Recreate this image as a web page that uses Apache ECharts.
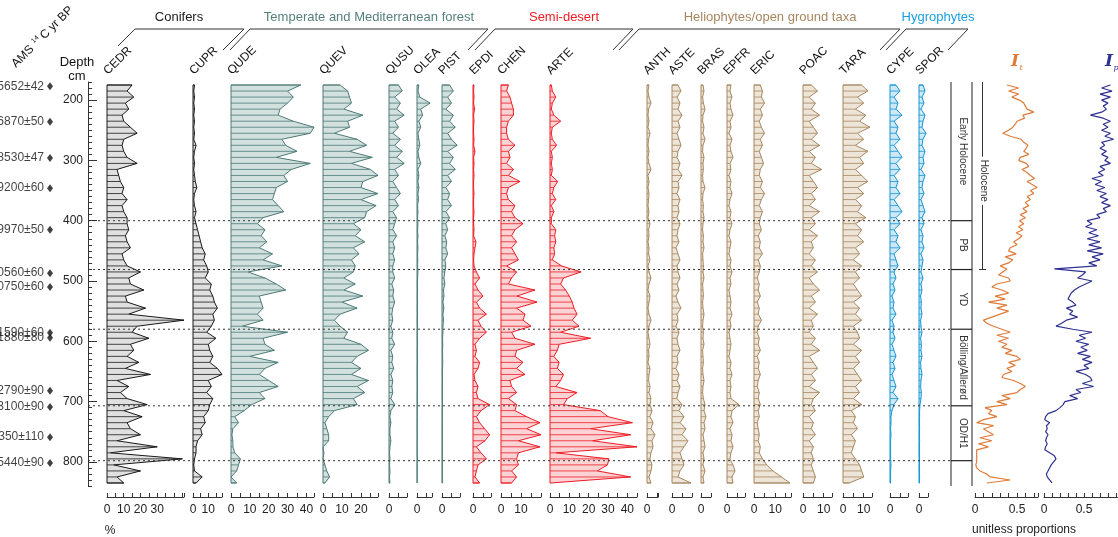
<!DOCTYPE html>
<html>
<head>
<meta charset="utf-8">
<script src="https://cdn.jsdelivr.net/npm/echarts@6/dist/echarts.min.js"></script>
<style>
  html, body { margin: 0; background: #fff; }
  #chart { width: 1118px; height: 537px; }
</style>
</head>
<body>
<div id="chart"></div>
<script>
// sample depths (cm) shared by the pollen panels
const depths = [175,185,195,205,215,225,235,245,255,265,275,285,295,305,315,325,335,345,355,365,375,385,395,405,415,425,435,445,455,465,475,485,495,505,515,525,535,545,555,565,575,585,595,605,615,625,635,645,655,665,675,685,695,705,715,725,735,745,755,765,775,785,795,805,815,825,835];

// pollen percentages
const cedr = [15,12,16,11,13,9,10,14,18,10, 9,10,12,18,6,7,8,10,9,12, 9,10,12,12,13,11,12,14,9,10, 12,20,13,14,22,11,12,23,13,46, 18,15,25,14,16,12,19,11,26,6, 13,8,12,24,10,21,12,14,20,6, 30,2,45,4,20,6,10];
const cupr = [1,0.5,1,0.5,1,0.5,1,0.5,1,0.5, 2,1,0.5,1,0.5,1,1.5,2.5,1,0.5, 1,2,1,2,3,4,5,6,8,7, 9,10,8,12,11,13,14,16,13,14, 12,9,15,10,11,13,11,16,19,10, 12,9,13,11,10,7,8,5,6,3, 2,2,1,0.5,1,6,2];
const qude = [37,30,33,30,26,25,33,44,42,27, 29,35,24,42,32,28,30,24,23,22, 25,28,17,14,18,16,19,15,22,17, 27,9,18,24,29,15,16,17,14,17, 6,30,17,18,23,10,25,18,15,20, 25,15,18,11,7,2,4,1,0.5,1, 1,2,5,4,3,0,3];
const quev = [9,13,14,15,11,21,13,14,6,18, 23,14,26,15,25,29,21,20,29,20, 28,23,22,16,20,17,22,16,19,15, 17,16,11,17,11,21,10,18,9,6, 9,13,11,20,24,18,15,20,15,24, 18,22,16,18,6,3,1,2,3,3, 0,0.5,0,1,2,3.5,1];
const qusu = [5,7,3,6,4,8,3,5,2,6, 3,7,4,8,3,5,2,4,6,3, 5,2,4,3,2,4,2,3,2,3, 2,2,3,1.5,2.5,2,3,2,1.5,2, 1,2,1.5,3,1,2,1.5,2.5,1,2, 1.5,2,1,3,1,0.5,1,0.5,0.5,1, 0.5,0.3,0.5,0.3,0.5,0.3,0.5];
const olea = [1,0.5,1.5,7,2,3,1,2,0.5,1, 1.5,0.5,1,2,0.5,1,0.5,1,0.5,0.8, 0.3,0.5,0.3,0.5,0.3,0.5,0.3,0.5,0.3,0.4, 0.3,0.5,0.3,0.2,0.3,0.2,0.3,0.2,0.3,0.2, 0.3,0.2,0.2,0.3,0.2,0.2,0.3,0.2,0.2,0.2, 0.3,0.2,0.2,0.2,0.1,0.2,0.1,0.1,0.2,0.1, 0.1,0.1,0.2,0.1,0.1,0.1,0.1];
const pist = [4,6,3,5,2,6,4,7,3,5, 8,3,6,4,7,3,5,2,4,3, 5,2,4,2,3,1.5,2.5,2,3,1.5, 2,1.5,1,1.5,0.8,1,0.5,1,0.5,0.8, 0.5,0.5,0.3,0.4,0.3,0.3,0.4,0.3,0.2,0.3, 0.2,0.3,0.2,0.3,0.2,0.2,0.2,0.2,0.2,0.2, 0.2,0.2,0.2,0.2,0.2,0.2,0.2];
const epdi = [0.5,0.3,0.5,0.3,0.8,0.3,0.5,0.3,0.3,0.5, 0.3,1,0.3,0.5,0.3,0.5,0.3,0.3,0.5,0.3, 0.3,0.5,0.3,0.3,0.5,0.3,1.5,1,0.5,0.3, 0.5,1.7,3.3,1,2.5,5,1.7,3.3,6.7,2.5, 4,6.7,3.3,1,1.7,1,3.3,2.5,0.5,1, 2.5,1.7,2.5,8.3,4,1.7,3.3,5.8,8.3,6, 1.7,4,6.7,2.5,1.7,1,3.3];
const chen = [3.7,2.8,4.5,5.3,6.2,6.2,3.7,2.8,2.8,3.7, 7,3.7,4.5,2.8,6.2,3.7,9.5,3.7,2.8,3.7, 7,5.3,7,11,7,5.3,7.8,5.3,7,8.7, 2.8,7.8,5.3,3.7,17,8,18,7.8,12,11, 15,5.3,7,17,7.8,7,11,7.8,12,4.5, 5.3,7.8,3.7,7.8,7,12.8,19.5,12.8,20,8.7, 19.5,8.7,7.8,8.7,5.3,7.8,5.3];
const arte = [0.7,1.2,3,1.2,0.7,2,5.5,1.2,0.7,1.2, 3.4,0.7,1.2,0.7,1.2,0.7,4,2,1.2,3, 0.7,2,0.7,0.7,3,2.4,3,2,2.4,1.2, 6,16,7,5.5,8,10,11.5,12.4,14,11.5, 15,5.5,21,4.7,3.8,2,4.7,3.8,7,5.5, 3,14,9,7,26,30,42.6,21,41.7,22, 45,3,30.5,29.7,24.5,41.7,0.3];
const anth = [1,0.5,1,2,0.8,0.5,1,0.5,1.5,0.8, 0.5,1,0.5,1,2,0.5,1,0.5,1,0.8, 0.5,1,0.5,1.5,0.8,1,0.5,1,0.8,1.5, 0.5,1,2,1,0.5,1.5,1,0.5,1,2, 1,0.5,1,1.5,0.8,1,0.5,1.5,1,0.8, 1.5,1,2,1.5,2.5,1.5,3,2,4,2.5, 3,2,1.5,2.5,2,1,2];
const aste = [3,4.5,2.5,4,3,5,3,4,2.5,3.5, 4.5,3,2.5,4,3,5,3,3.5,2.5,4, 3,3.5,2.5,4,3,2.5,3.5,2,3,4, 2.5,3,4,2.5,3.5,2,3,4.5,2.5,3, 2,3.5,2.5,3,4,2.5,3,2,3.5,2.5, 4,3,2.5,5,3.5,6,4,7,5,8, 6,4,5,6,4,3,9.5];
const bras = [1,1.5,0.8,1.2,2,1,0.8,1.5,1,2, 1,0.8,1.5,1,1.2,0.8,1,2,1,0.8, 1.2,1,1.5,1,0.8,1.2,1,1.5,0.8,1, 1.2,1,1.5,0.8,1,1.2,0.8,1,1.5,1, 0.8,1.2,1,1.5,0.8,1,1.2,0.8,1,1.5, 1,0.8,1.2,2,1.5,2.5,1.5,2,1,1.5, 2,1,1.5,1,2,1,1.5];
const epfr = [2,1.5,2.5,1.5,2,3,1.5,2,1,2.5, 1.5,2,3,1.5,2,1,2,1.5,2.5,1.5, 1,2,1.5,2.5,1.5,1,2,1.5,1,2, 1.5,2.5,1.5,2,1,1.5,2,1.5,2.5,1.5, 2,1,1.5,2,1.5,1,2,1.5,2.5,1.5, 2,1.5,2,6,2.5,2,3,1.5,2.5,2, 3,2,1.5,3,4,2.5,3];
const eric = [3,4,3.5,5,3,4,2.5,3.5,5,3, 4,2.5,3.5,4.5,3,2.5,4,3,5,3.5, 2.5,4,3,2.5,3.5,2,3,2.5,4,2, 3,2.5,1.5,2.5,2,3,1.5,2.5,2,3.5, 2,1.5,2.5,2,3,1.5,2.5,2,3,2, 1.5,2.5,2,3,2,2.5,1.5,2,2.5,2, 3,2.5,4,6,9,13,17];
const poac = [4,7,3,6,4,8,3,5,7,4, 8,3,6,4,9,3,5,7,4,6, 3,8,4,6,3,7,4,5,3,6, 4,7,3,5,8,4,6,3,7,4, 5,3,6,4,8,3,5,7,4,6, 3,8,5,4,6,3,5,4,6,3, 5,4,5,4,5,6,5];
const tara = [9,12,7,10,6,11,8,13,7,10, 6,12,8,10,6,9,12,7,10,6, 9,7,11,6,9,7,10,6,8,5, 9,6,8,5,7,9,5,8,6,9, 5,7,8,5,9,6,8,5,7,9, 6,8,5,9,4,6,5,7,4,6, 5,4,6,8,9,10,3];
const cype = [3,5,2,4,3,6,2,4,3,5, 2,4,6,3,5,2,4,3,5,2, 4,6,3,5,2,4,3,5,2,3, 4,2,3,1.5,2.5,1,2,1.5,3,1, 2,1.5,2.5,1,2,3,1.5,2.5,1,2, 3,1.5,4,2,1,0.5,0.5,0.3,0.5,0.3, 0.3,0.3,0.3,0.5,0.3,0.3,0.3];
const spor = [2,3,1.5,2.5,1,3,2,1.5,3.5,2, 1.5,3,2,2.5,1,3,2,1.5,2.5,1, 2,3,1.5,2.5,1,2,1.5,2.5,1,2, 1.5,1,2,1,1.5,0.8,1.2,1,1.5,0.8, 1,1.5,0.8,1.2,1,1.5,0.8,1,1.5,1, 0.8,1.2,1,0.5,0.3,0.3,0.2,0.3,0.2,0.3, 0.2,0.2,0.3,0.2,0.2,0.3,0.2];

// index curves, finer sampling
const indexDepths = [175,180,185,190,195,200,205,210,215,220,225,230,235,240,245,250,255,260,265,270,275,280,285,290,295,300,305,310,315,320,325,330,335,340,345,350,355,360,365,370,375,380,385,390,395,400,405,410,415,420,425,430,435,440,445,450,455,460,465,470,475,480,485,490,495,500,505,510,515,520,525,530,535,540,545,550,555,560,565,570,575,580,585,590,595,600,605,610,615,620,625,630,635,640,645,650,655,660,665,670,675,680,685,690,695,700,705,710,715,720,725,730,735,740,745,750,755,760,765,770,775,780,785,790,795,800,805,810,815,820,825,830,835];
const indexT = [0.38,0.52,0.40,0.52,0.44,0.53,0.58,0.60,0.62,0.70, 0.57,0.59,0.50,0.48,0.45,0.40,0.33,0.42,0.55,0.58, 0.63,0.61,0.58,0.64,0.54,0.52,0.61,0.64,0.56,0.62, 0.66,0.71,0.62,0.68,0.74,0.66,0.70,0.62,0.66,0.60, 0.64,0.57,0.62,0.54,0.60,0.53,0.58,0.52,0.57,0.49, 0.56,0.52,0.46,0.50,0.42,0.40,0.49,0.36,0.45,0.40, 0.30,0.38,0.33,0.28,0.40,
  0.42,0.26,0.20,0.32,0.40,0.24,0.36,0.16,0.38,0.26, 0.40,0.30,0.20,0.10,0.14,0.22,0.32,0.42,0.26,0.40, 0.28,0.38,0.32,0.44,0.36,0.50,0.54,0.40,0.48,0.38, 0.44,0.34,0.32,0.46,0.54,0.60,0.54,0.50,0.32,0.42, 0.26,0.38,0.12,0.20,0.16,0.26,0.10,0.02,0.22,0.10, 0.16,0.22,0.06,0.20,0.04,0.16,0.02,0.02,0.02,0.02, 0.02,0.01,0.02,0.06,0.14,0.18,0.42,0.14];
const indexP = [0.83,0.72,0.85,0.70,0.83,0.72,0.80,0.74,0.78,0.72, 0.58,0.74,0.83,0.74,0.80,0.72,0.83,0.76,0.87,0.72, 0.76,0.70,0.78,0.72,0.80,0.76,0.83,0.70,0.76,0.68, 0.74,0.60,0.72,0.64,0.76,0.66,0.78,0.70,0.80,0.72, 0.83,0.74,0.78,0.66,0.70,0.54,0.60,0.52,0.66,0.56, 0.68,0.54,0.70,0.56,0.72,0.54,0.74,0.60,0.70,0.56, 0.66,0.13,0.52,0.48,0.42,
  0.60,0.52,0.44,0.38,0.34,0.32,0.30,0.36,0.40,0.28, 0.36,0.32,0.42,0.28,0.22,0.15,0.36,0.60,0.44,0.52, 0.40,0.56,0.46,0.54,0.42,0.58,0.48,0.60,0.50,0.56, 0.40,0.52,0.58,0.60,0.48,0.62,0.40,0.46,0.32,0.42, 0.26,0.24,0.20,0.15,0.05,0.02,0.01,0.07,0.03,0.04, 0.02,0.05,0.03,0.02,0.04,0.02,0.01,0.07,0.13,0.15, 0.12,0.09,0.07,0.05,0.03,0.04,0.07,0.10];

// depth axis labels, zones, dates
const depthTicks = [200,300,400,500,600,700,800];
const zoneNames = ['Early Holocene','PB','YD','Bölling/Allerød','OD/H1'];
const zoneTops = [170,400,481,580,707];
const zoneBottoms = [400,481,580,707,798];
const holoceneSpan = [170,481];
const dateDepths = [177,236,296,346,415,487,510,586,594,682,709,759,802];
const dateLabels = ['5652±42','6870±50','8530±47','9200±60','9970±50','10560±60','10750±60','11590±60','11880±80','12790±90','13100±90','14350±110','15440±90'];

const FONT = '"Liberation Sans", Arial, Helvetica, sans-serif';
const TOP = 82, HEIGHT = 404, DMIN = 170, DMAX = 840;

const colors = {
  con:   { stroke: '#1a1a1a', fill: '#e0e0e0', title: '#1a1a1a' },
  tmf:   { stroke: '#4d7b77', fill: '#d2e0de', title: '#56807c' },
  semi:  { stroke: '#ed1c24', fill: '#fcd3d5', title: '#ed1c24' },
  helio: { stroke: '#a68760', fill: '#eee5d9', title: '#a68760' },
  hyg:   { stroke: '#1495d6', fill: '#cfe8f6', title: '#1a9ee0' }
};

const panels = [
  { name: 'CEDR', vals: cedr, g: 'con',   left: 107, width: 77, max: 46,   labels: [0,10,20,30] },
  { name: 'CUPR', vals: cupr, g: 'con',   left: 193, width: 29, max: 19,   labels: [0,10] },
  { name: 'QUDE', vals: qude, g: 'tmf',   left: 231, width: 83, max: 44,   labels: [0,10,20,30,40] },
  { name: 'QUEV', vals: quev, g: 'tmf',   left: 323, width: 55, max: 29,   labels: [0,10,20] },
  { name: 'QUSU', vals: qusu, g: 'tmf',   left: 389, width: 18, max: 9.5,  labels: [0] },
  { name: 'OLEA', vals: olea, g: 'tmf',   left: 417, width: 15, max: 8,    labels: [0] },
  { name: 'PIST', vals: pist, g: 'tmf',   left: 442, width: 18, max: 9.5,  labels: [0] },
  { name: 'EPDI', vals: epdi, g: 'semi',  left: 473, width: 18, max: 9,    labels: [0] },
  { name: 'CHEN', vals: chen, g: 'semi',  left: 501, width: 40, max: 20,   labels: [0,10] },
  { name: 'ARTE', vals: arte, g: 'semi',  left: 550, width: 87, max: 45,   labels: [0,10,20,30,40] },
  { name: 'ANTH', vals: anth, g: 'helio', left: 647, width: 11, max: 5.5,  labels: [0] },
  { name: 'ASTE', vals: aste, g: 'helio', left: 672, width: 20, max: 10,   labels: [0] },
  { name: 'BRAS', vals: bras, g: 'helio', left: 701, width: 10, max: 5,    labels: [0] },
  { name: 'EPFR', vals: epfr, g: 'helio', left: 727, width: 18, max: 9,    labels: [0] },
  { name: 'ERIC', vals: eric, g: 'helio', left: 754, width: 37, max: 17.5, labels: [0,10] },
  { name: 'POAC', vals: poac, g: 'helio', left: 803, width: 29, max: 14,   labels: [0,10] },
  { name: 'TARA', vals: tara, g: 'helio', left: 843, width: 29, max: 14,   labels: [0,10] },
  { name: 'CYPE', vals: cype, g: 'hyg',   left: 890, width: 18, max: 9,    labels: [0] },
  { name: 'SPOR', vals: spor, g: 'hyg',   left: 919, width: 9,  max: 4.5,  labels: [0] }
];

const grids = [], xAxes = [], yAxes = [], series = [], graphic = [];

// adds a grid with one x and one y axis, returns the axis indices
function addPanel(gridOpt, xOpt, yOpt) {
  const g = grids.length;
  grids.push(gridOpt);
  xOpt.gridIndex = g;
  yOpt.gridIndex = g;
  xAxes.push(xOpt);
  yAxes.push(yOpt);
  return { g: g, x: xAxes.length - 1, y: yAxes.length - 1 };
}
function bottomAxis(max, interval, labels) {
  return {
    type: 'value', min: 0, max: max, interval: interval,
    position: 'bottom', offset: 11,
    axisLine: { show: true, lineStyle: { color: '#333', width: 1 } },
    axisTick: { show: true, inside: true, length: 4, lineStyle: { color: '#333' } },
    axisLabel: { customValues: labels, fontSize: 12, color: '#222', margin: 7, fontFamily: FONT },
    splitLine: { show: false }
  };
}
function depthAxis() {
  return { type: 'value', inverse: true, min: DMIN, max: DMAX, show: false };
}

// silhouette: filled outline plus one horizontal bar per sample
function silhouette(vals, col) {
  return function (params, api) {
    const i = params.dataIndex;
    const kids = [];
    if (i === 0) {
      const pts = [api.coord([0, depths[0]])];
      for (let k = 0; k < vals.length; k++) pts.push(api.coord([vals[k], depths[k]]));
      pts.push(api.coord([0, depths[depths.length - 1]]));
      kids.push({ type: 'polygon', shape: { points: pts },
        style: { fill: col.fill, stroke: col.stroke, lineWidth: 1 } });
    }
    const a = api.coord([0, api.value(1)]);
    const b = api.coord([api.value(0), api.value(1)]);
    kids.push({ type: 'line', shape: { x1: a[0], y1: a[1], x2: b[0], y2: b[1] },
      style: { stroke: col.stroke, lineWidth: 0.8 } });
    return { type: 'group', children: kids };
  };
}

panels.forEach(function (p) {
  const col = colors[p.g];
  const ax = addPanel({ left: p.left, width: p.width, top: TOP, height: HEIGHT },
    bottomAxis(p.max, 5, p.labels), depthAxis());
  series.push({
    type: 'custom', xAxisIndex: ax.x, yAxisIndex: ax.y, silent: true,
    data: depths.map(function (d, i) { return [p.vals[i], d]; }),
    renderItem: silhouette(p.vals, col)
  });
  graphic.push({
    type: 'text', x: p.left + 3, y: 77, rotation: Math.PI / 4,
    style: { text: p.name, fill: '#111', font: '12px ' + FONT,
      align: 'left', verticalAlign: 'bottom', textAlign: 'left', textVerticalAlign: 'bottom' }
  });
});

// index curves
const axT = addPanel({ left: 975, width: 63, top: TOP, height: HEIGHT }, bottomAxis(0.75, 0.1, [0, 0.5]), depthAxis());
series.push({ type: 'line', xAxisIndex: axT.x, yAxisIndex: axT.y, symbol: 'none', silent: true,
  lineStyle: { color: '#e07b39', width: 1.2 },
  data: indexDepths.map(function (d, i) { return [indexT[i], d]; }) });

// this panel runs past the right edge of the picture, so do not let the grid shrink
const axP = addPanel({ left: 1044, width: 88, top: TOP, height: HEIGHT, outerBoundsMode: 'none', containLabel: false },
  bottomAxis(1.1, 0.1, [0, 0.5, 1]), depthAxis());
series.push({ type: 'line', xAxisIndex: axP.x, yAxisIndex: axP.y, symbol: 'none', silent: true,
  lineStyle: { color: '#2e3192', width: 1.2 },
  data: indexDepths.map(function (d, i) { return [indexP[i], d]; }) });

// depth axis + dotted zone boundaries
const axD = addPanel({ left: 88, width: 863, top: TOP, height: HEIGHT },
  { type: 'value', min: 0, max: 1, show: false },
  {
    type: 'value', inverse: true, min: DMIN, max: DMAX, position: 'left',
    axisLine: { show: true, lineStyle: { color: '#333' } },
    axisTick: { show: true, inside: true, length: 9, customValues: depthTicks, lineStyle: { color: '#333' } },
    axisLabel: { customValues: depthTicks, fontSize: 12, color: '#222', margin: 5, fontFamily: FONT },
    splitLine: { show: false }
  });
yAxes.push({
  type: 'value', gridIndex: axD.g, inverse: true, min: DMIN, max: DMAX, interval: 10, position: 'left',
  axisLine: { show: false },
  axisTick: { show: true, inside: true, length: 4, lineStyle: { color: '#333' } },
  axisLabel: { show: false }, splitLine: { show: false }
});
series.push({
  type: 'custom', xAxisIndex: axD.x, yAxisIndex: axD.y, silent: true, z: 5,
  data: zoneBottoms.map(function (d) { return [0, d]; }),
  renderItem: function (params, api) {
    const a = api.coord([0, api.value(1)]);
    const b = api.coord([1, api.value(1)]);
    return { type: 'line', shape: { x1: a[0], y1: a[1], x2: b[0], y2: b[1] },
      style: { stroke: '#333', lineWidth: 1, lineDash: [2, 3] } };
  }
});

// zone column
const axZ = addPanel({ left: 951, width: 21, top: TOP, height: HEIGHT },
  { type: 'value', min: 0, max: 1, show: false }, depthAxis());
series.push({
  type: 'custom', xAxisIndex: axZ.x, yAxisIndex: axZ.y, silent: true,
  data: zoneTops.map(function (t, i) { return [0.5, (t + zoneBottoms[i]) / 2]; }),
  renderItem: function (params, api) {
    const i = params.dataIndex;
    const cs = params.coordSys;
    const t = api.coord([0, zoneTops[i]]);
    const b = api.coord([0, zoneBottoms[i]]);
    const kids = [
      { type: 'line', shape: { x1: cs.x, y1: b[1], x2: cs.x + cs.width, y2: b[1] },
        style: { stroke: '#222', lineWidth: 1.2 } },
      { type: 'text', x: cs.x + cs.width / 2 + 1, y: (t[1] + b[1]) / 2, rotation: -Math.PI / 2,
        style: { text: zoneNames[i], fill: '#333', font: '10px ' + FONT,
          align: 'center', verticalAlign: 'middle', textAlign: 'center', textVerticalAlign: 'middle' } }
    ];
    if (i === 0) {
      kids.push({ type: 'line', shape: { x1: cs.x, y1: cs.y, x2: cs.x, y2: cs.y + cs.height },
        style: { stroke: '#222', lineWidth: 1 } });
      kids.push({ type: 'line', shape: { x1: cs.x + cs.width, y1: cs.y, x2: cs.x + cs.width, y2: cs.y + cs.height },
        style: { stroke: '#222', lineWidth: 1 } });
    }
    return { type: 'group', children: kids };
  }
});

// Holocene bracket
const axH = addPanel({ left: 979, width: 7, top: TOP, height: HEIGHT },
  { type: 'value', min: 0, max: 1, show: false }, depthAxis());
series.push({
  type: 'custom', xAxisIndex: axH.x, yAxisIndex: axH.y, silent: true,
  data: [[0.5, (holoceneSpan[0] + holoceneSpan[1]) / 2]],
  renderItem: function (params, api) {
    const cs = params.coordSys;
    const t = api.coord([0.5, holoceneSpan[0]]);
    const b = api.coord([0.5, holoceneSpan[1]]);
    return { type: 'group', children: [
      { type: 'line', shape: { x1: t[0], y1: t[1], x2: b[0], y2: b[1] }, style: { stroke: '#333', lineWidth: 1 } },
      { type: 'line', shape: { x1: cs.x, y1: b[1], x2: cs.x + cs.width, y2: b[1] }, style: { stroke: '#333', lineWidth: 1 } },
      { type: 'text', x: t[0] + 1, y: (t[1] + b[1]) / 2 + 5, rotation: -Math.PI / 2,
        style: { text: 'Holocene', fill: '#333', font: '10px ' + FONT, backgroundColor: '#fff', padding: [0, 3],
          align: 'center', verticalAlign: 'middle', textAlign: 'center', textVerticalAlign: 'middle' } }
    ] };
  }
});

// radiocarbon dates
const axA = addPanel({ left: 44, width: 12, top: TOP, height: HEIGHT },
  { type: 'category', data: ['d'], show: false }, depthAxis());
series.push({
  type: 'scatter', xAxisIndex: axA.x, yAxisIndex: axA.y, silent: true,
  symbol: 'diamond', symbolSize: [6, 8], itemStyle: { color: '#111' },
  data: dateDepths.map(function (d) { return ['d', d]; }),
  label: { show: true, position: 'left', distance: 3, color: '#111', fontSize: 12, fontFamily: FONT,
    formatter: function (p) { return dateLabels[p.dataIndex]; } }
});

// headers and decorations
function txt(x, y, s, color, font) {
  return { type: 'text', x: x, y: y,
    style: { text: s, fill: color, font: font,
      align: 'center', verticalAlign: 'middle', textAlign: 'center', textVerticalAlign: 'middle' } };
}
graphic.push(txt(179, 17, 'Conifers', colors.con.title, '13px ' + FONT));
graphic.push(txt(369, 17, 'Temperate and Mediterranean forest', colors.tmf.title, '13px ' + FONT));
graphic.push(txt(564, 17, 'Semi-desert', colors.semi.title, '13px ' + FONT));
graphic.push(txt(770, 17, 'Heliophytes/open ground taxa', colors.helio.title, '13px ' + FONT));
graphic.push(txt(938, 17, 'Hygrophytes', colors.hyg.title, '13px ' + FONT));

const brackets = [
  [[118, 46], [135, 29], [244, 29]], [[223, 50], [244, 29]],
  [[230, 50], [250, 29], [488, 29]], [[468, 50], [488, 29]],
  [[475, 50], [495, 29], [633, 29]], [[613, 50], [633, 29]],
  [[619, 50], [639, 29], [900, 29]], [[880, 50], [900, 29]],
  [[886, 50], [906, 29], [968, 29], [948, 50]]
];
brackets.forEach(function (pts) {
  graphic.push({ type: 'polyline', shape: { points: pts }, style: { stroke: '#333', lineWidth: 1, fill: null } });
});

graphic.push(txt(77, 62, 'Depth', '#111', '13px ' + FONT));
graphic.push(txt(77, 76, 'cm', '#111', '13px ' + FONT));
graphic.push({
  type: 'group', x: 18, y: 70, rotation: Math.PI / 4,
  children: [
    { type: 'text', x: 0, y: 0, style: { text: 'AMS', fill: '#111', font: '12px ' + FONT,
      align: 'left', verticalAlign: 'bottom', textAlign: 'left', textVerticalAlign: 'bottom' } },
    { type: 'text', x: 30, y: -6, style: { text: '14', fill: '#111', font: '7px ' + FONT,
      align: 'left', verticalAlign: 'bottom', textAlign: 'left', textVerticalAlign: 'bottom' } },
    { type: 'text', x: 40, y: 0, style: { text: 'C yr BP', fill: '#111', font: '12px ' + FONT,
      align: 'left', verticalAlign: 'bottom', textAlign: 'left', textVerticalAlign: 'bottom' } }
  ]
});

const serif = '"DejaVu Serif", "Liberation Serif", serif';
graphic.push(txt(1015, 62, 'I', '#e07b39', 'italic bold 17px ' + serif));
graphic.push(txt(1021, 68, 't', '#e07b39', 'italic 8px ' + serif));
graphic.push(txt(1109, 62, 'I', '#2e3192', 'italic bold 17px ' + serif));
graphic.push(txt(1116, 68, 'p', '#2e3192', 'italic 8px ' + serif));

graphic.push(txt(110, 531, '%', '#222', '12px ' + FONT));
graphic.push(txt(1024, 530, 'unitless proportions', '#222', '12px ' + FONT));

const chart = echarts.init(document.getElementById('chart'), null, { renderer: 'canvas' });
chart.setOption({
  animation: false,
  backgroundColor: '#fff',
  textStyle: { fontFamily: FONT },
  grid: grids,
  xAxis: xAxes,
  yAxis: yAxes,
  series: series,
  graphic: graphic
});
</script>
</body>
</html>
